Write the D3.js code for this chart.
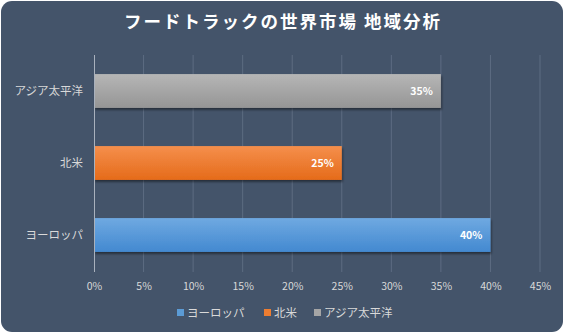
<!DOCTYPE html>
<html><head><meta charset="utf-8">
<script src="https://cdn.jsdelivr.net/npm/d3@7"></script>
<style>html,body{margin:0;padding:0;background:#fff;}svg{display:block;}</style>
</head><body>
<svg id="c" width="565" height="334"></svg>
<script>
const title = "フードトラックの世界市場 地域分析";
const categories = ["アジア太平洋", "北米", "ヨーロッパ"];
const values = [0.35, 0.25, 0.40];
const legendOrder = ["ヨーロッパ", "北米", "アジア太平洋"];
const ticks = [0, 0.05, 0.10, 0.15, 0.20, 0.25, 0.30, 0.35, 0.40, 0.45];
const colors = {"ヨーロッパ": ["#6fa9e1", "#4389d0"], "北米": ["#f58f4c", "#e56b1a"], "アジア太平洋": ["#b6b6b6", "#959595"]};
const legendColors = {"ヨーロッパ": "#5b9bd5", "北米": "#ed7d31", "アジア太平洋": "#a5a5a5"};

const svg = d3.select("#c");
const font = "'Noto Sans CJK JP', 'Noto Sans', sans-serif";
const defs = svg.append("defs");
categories.forEach((c, i) => {
  const g = defs.append("linearGradient").attr("id", "g" + i).attr("x1", 0).attr("y1", 0).attr("x2", 0).attr("y2", 1);
  g.append("stop").attr("offset", "0%").attr("stop-color", colors[c][0]);
  g.append("stop").attr("offset", "100%").attr("stop-color", colors[c][1]);
});
const f = defs.append("filter").attr("id", "sh").attr("x", "-5%").attr("y", "-20%").attr("width", "115%").attr("height", "160%");
f.append("feDropShadow").attr("dx", 1).attr("dy", 2).attr("stdDeviation", 1.2).attr("flood-color", "#000").attr("flood-opacity", 0.45);

svg.append("rect").attr("x", 1).attr("y", 1).attr("width", 562).attr("height", 331).attr("rx", 11).attr("fill", "#44546a");

svg.append("text").attr("x", 283).attr("y", 28).attr("text-anchor", "middle")
  .attr("fill", "#ffffff").attr("font-family", font).attr("font-size", 17.5).attr("font-weight", "bold")
  .attr("letter-spacing", 2).text(title);

const x = d3.scaleLinear().domain([0, 0.45]).range([94, 540]);
const y = d3.scaleBand().domain(categories).range([55, 271]).paddingInner(0.53).paddingOuter(0.265);

// gridlines
svg.append("g").selectAll("line").data(ticks.slice(1)).join("line")
  .attr("x1", d => x(d)).attr("x2", d => x(d)).attr("y1", 55).attr("y2", 272)
  .attr("stroke", "#5d6c82").attr("stroke-width", 1);

// x axis labels
const xa = svg.append("g").attr("transform", "translate(0,272)")
  .call(d3.axisBottom(x).tickValues(ticks).tickFormat(d3.format(".0%")).tickSize(0).tickPadding(11));
xa.select(".domain").remove();
xa.selectAll("text").attr("fill", "#d9d9d9").attr("font-family", font).attr("font-size", 10.5);

// bars
svg.append("g").selectAll("rect").data(categories).join("rect")
  .attr("x", x(0)).attr("y", d => y(d)).attr("width", (d, i) => x(values[i]) - x(0)).attr("height", y.bandwidth())
  .attr("fill", (d, i) => "url(#g" + i + ")").attr("filter", "url(#sh)");

// zero axis line
svg.append("line").attr("x1", x(0) + 0.5).attr("x2", x(0) + 0.5).attr("y1", 55).attr("y2", 272)
  .attr("stroke", "#a9b1bd").attr("stroke-width", 1);

// y axis labels
const ya = svg.append("g").attr("transform", "translate(94,0)")
  .call(d3.axisLeft(y).tickSize(0).tickPadding(11));
ya.select(".domain").remove();
ya.selectAll("text").attr("fill", "#d9d9d9").attr("font-family", font).attr("font-size", 11.5);

// data labels
svg.append("g").selectAll("text").data(categories).join("text")
  .attr("x", (d, i) => x(values[i]) - 8).attr("y", d => y(d) + y.bandwidth() / 2).attr("dy", "0.36em")
  .attr("text-anchor", "end").attr("fill", "#ffffff").attr("font-family", font).attr("font-size", 10.5).attr("font-weight", "bold")
  .text((d, i) => d3.format(".0%")(values[i]));

// legend
const lx = [177, 264, 314];
const lg = svg.append("g").selectAll("g").data(legendOrder).join("g")
  .attr("transform", (d, i) => `translate(${lx[i]},313)`);
lg.append("rect").attr("x", 0).attr("y", -4).attr("width", 7).attr("height", 7).attr("fill", d => legendColors[d]);
lg.append("text").attr("x", 10).attr("y", 0).attr("dy", "0.36em").attr("fill", "#d9d9d9")
  .attr("font-family", font).attr("font-size", 11.5).text(d => d);
</script>
</body></html>
